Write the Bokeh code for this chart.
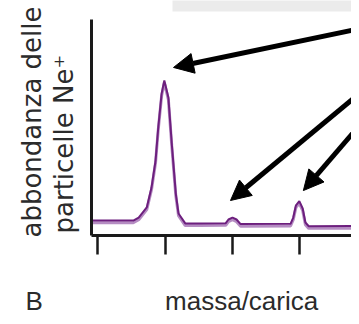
from bokeh.plotting import figure
from bokeh.models import (Range1d, FixedTicker, Arrow, NormalHead, Title,
                          BoxAnnotation, ColumnDataSource)
from bokeh.embed import file_html
from bokeh.resources import INLINE

# ---- data ----
mz = [18.91, 19.53, 19.61, 19.73, 19.80, 19.86, 19.90, 19.95, 19.99, 20.05,
      20.10, 20.16, 20.20, 20.30, 20.50, 20.90, 20.94, 21.00, 21.06, 21.12,
      21.86, 21.90, 21.94, 21.99, 22.04, 22.08, 22.13, 22.88]
abundance = [6.9, 6.9, 8.3, 13.0, 22.2, 34.7, 50.0, 65.7, 71.8, 63.9,
             42.6, 19.4, 10.2, 5.6, 5.6, 5.7, 7.4, 8.3, 7.4, 5.3,
             5.4, 8.3, 14.0, 15.9, 12.5, 6.0, 4.3, 4.4]
x_ticks = [19, 20, 21, 22]

# arrows: start and end points in data units
arrow_starts_x = [22.97, 22.97, 22.97]
arrow_starts_y = [96.3, 68.0, 54.2]
arrow_ends_x = [20.126, 20.97, 22.05]
arrow_ends_y = [77.8, 16.2, 20.8]

y_label_1 = "abbondanza delle"
y_label_2 = "particelle Ne\u207a"
x_label = "massa/carica"
panel_label = "B"

TXT = "#2b2b2b"

p = figure(width=351, height=316, output_backend="svg", toolbar_location=None,
           x_range=Range1d(18.911, 22.763), y_range=Range1d(0, 108.8),
           min_border_left=91, min_border_right=0, min_border_top=0,
           min_border_bottom=81)
p.extra_y_ranges = {"shadow": Range1d(1.0, 109.8)}
p.outline_line_color = None
p.grid.visible = False
p.background_fill_color = "white"
p.border_fill_color = "white"

# grey strip at the top
p.add_layout(BoxAnnotation(left=20.111, right=23.5, bottom=103.7, top=115,
                           fill_color="#ebebeb", fill_alpha=1, line_color=None,
                           level="underlay"))

# axes
p.yaxis.ticker = FixedTicker(ticks=[])
p.yaxis.bounds = (0, 100)
p.yaxis.minor_tick_line_color = None
p.yaxis.major_tick_line_color = None
p.yaxis.major_tick_out = 18
p.yaxis.major_tick_in = 0
p.yaxis.major_label_standoff = 0
p.yaxis.major_label_text_font_size = "0px"
p.yaxis.axis_line_width = 3
p.yaxis.axis_line_color = "#1a1a1a"

p.xaxis.ticker = FixedTicker(ticks=x_ticks)
p.xaxis.minor_tick_line_color = None
p.xaxis.major_tick_in = 0
p.xaxis.major_tick_out = 19
p.xaxis.major_tick_line_width = 2.5
p.xaxis.major_tick_line_color = "#1a1a1a"
p.xaxis.major_label_standoff = 0
p.xaxis.major_label_text_font_size = "0px"
p.xaxis.axis_line_width = 3
p.xaxis.axis_line_color = "#1a1a1a"

src = ColumnDataSource(dict(x=mz, y=abundance))
p.line("x", "y", source=src, y_range_name="shadow", line_color="#b58cc2",
       line_width=3)
p.line("x", "y", source=src, line_color="#6d1f7e", line_width=2)

for xs, ys, xe, ye in zip(arrow_starts_x, arrow_starts_y, arrow_ends_x, arrow_ends_y):
    p.add_layout(Arrow(end=NormalHead(size=20, fill_color="black", line_color="black"),
                       x_start=xs, y_start=ys, x_end=xe, y_end=ye,
                       line_width=5, line_color="black"))

# spacer between the axis line and the y label
p.add_layout(Title(text="\u2003", text_font_size="1px", text_color="white",
                   standoff=10), "left")
# y label: two stacked titles on the left (nearest first)
p.add_layout(Title(text=y_label_2, align="left", offset=2, text_font="DejaVu Sans",
                   text_font_size="26px", text_line_height=0.86,
                   text_font_style="normal", text_color=TXT, standoff=0), "left")
p.add_layout(Title(text=y_label_1, align="left", offset=-2, text_font="DejaVu Sans",
                   text_font_size="26px", text_line_height=0.86,
                   text_font_style="normal", text_color=TXT, standoff=0), "left")

# bottom line: panel letter and x label (empty first line pushes it down)
p.add_layout(Title(text=" \n" + panel_label + "\u2003" * 4 + "\u2002\u2009" + x_label,
                   align="left", offset=-66, text_font="Liberation Sans",
                   text_font_size="26px", text_line_height=0.95,
                   text_font_style="normal", text_color=TXT, standoff=0), "below")

open("out.html", "w").write(file_html(p, INLINE))
